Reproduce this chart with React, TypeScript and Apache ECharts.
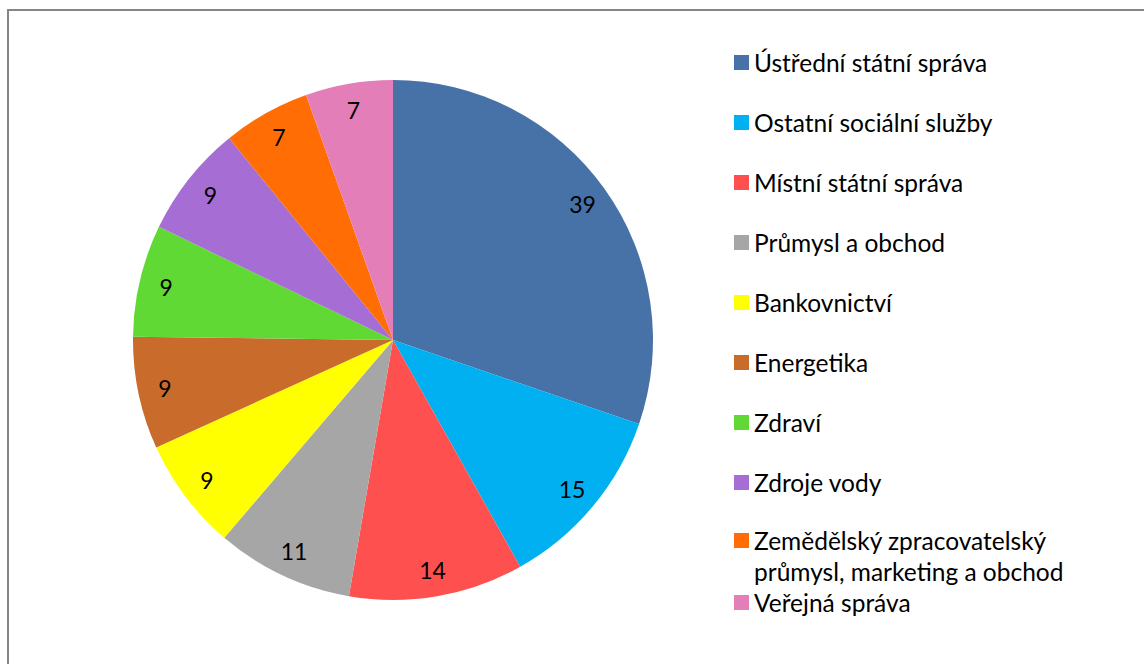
import React, { useEffect, useRef } from "react";
import * as echarts from "echarts";

const categories = [
  "Ústřední státní správa",
  "Ostatní sociální služby",
  "Místní státní správa",
  "Průmysl a obchod",
  "Bankovnictví",
  "Energetika",
  "Zdraví",
  "Zdroje vody",
  "Zemědělský zpracovatelský průmysl, marketing a obchod",
  "Veřejná správa",
];
const values = [39, 15, 14, 11, 9, 9, 9, 9, 7, 7];
const colors = [
  "#4672A8",
  "#00B0F0",
  "#FF5050",
  "#A6A6A6",
  "#FFFF00",
  "#C86B2B",
  "#60D935",
  "#A66DD4",
  "#FF6D04",
  "#E47EB8",
];

const FONT = "Lato, 'Open Sans', sans-serif";

export default function App() {
  const ref = useRef<HTMLDivElement>(null);
  useEffect(() => {
    document.body.style.margin = "0";
    const chart = echarts.init(ref.current!, undefined, { renderer: "svg" });
    const data = categories.map((name, i) => ({
      name,
      value: values[i],
      itemStyle: { color: colors[i] },
    }));
    const overlay = categories.map((name, i) => ({
      name,
      value: values[i],
      itemStyle: { color: "rgba(0,0,0,0)" },
    }));
    const legendText = {
      fontFamily: FONT,
      fontSize: 24.5,
      color: "#000",
      lineHeight: 25,
    };
    const base = {
      orient: "vertical",
      left: 734,
      padding: 0,
      itemWidth: 15,
      itemHeight: 15,
      itemGap: 35,
      icon: "rect",
      selectedMode: false,
    };
    chart.setOption({
      animation: false,
      backgroundColor: "#fff",
      graphic: [
        {
          type: "rect",
          shape: { x: 8, y: 10, width: 1300, height: 800 },
          style: { fill: "none", stroke: "#868686", lineWidth: 2 },
          silent: true,
        },
      ],
      legend: [
        {
          ...base,
          top: 50,
          textStyle: legendText,
          data: categories.slice(0, 8),
        },
        {
          ...base,
          top: 494,
          textStyle: { ...legendText, lineHeight: 31 },
          data: [categories[8]],
          formatter: () =>
            "\nZemědělský zpracovatelský\nprůmysl, marketing a obchod",
        },
        {
          ...base,
          top: 590,
          textStyle: legendText,
          data: [categories[9]],
        },
      ],
      series: [
        {
          type: "pie",
          center: [393, 340],
          radius: 260,
          startAngle: 90,
          clockwise: true,
          label: { show: false },
          labelLine: { show: false },
          itemStyle: { borderWidth: 0 },
          emphasis: { disabled: true },
          data,
        },
        {
          type: "pie",
          center: [393, 340],
          radius: [200, 260],
          startAngle: 90,
          clockwise: true,
          silent: true,
          label: {
            show: true,
            position: "inside",
            formatter: "{c}",
            fontFamily: FONT,
            fontSize: 23,
            color: "#000",
          },
          labelLine: { show: false },
          itemStyle: { borderWidth: 0 },
          emphasis: { disabled: true },
          data: overlay,
        },
      ],
    });
    return () => chart.dispose();
  }, []);
  return <div ref={ref} style={{ width: 1144, height: 664 }} />;
}
